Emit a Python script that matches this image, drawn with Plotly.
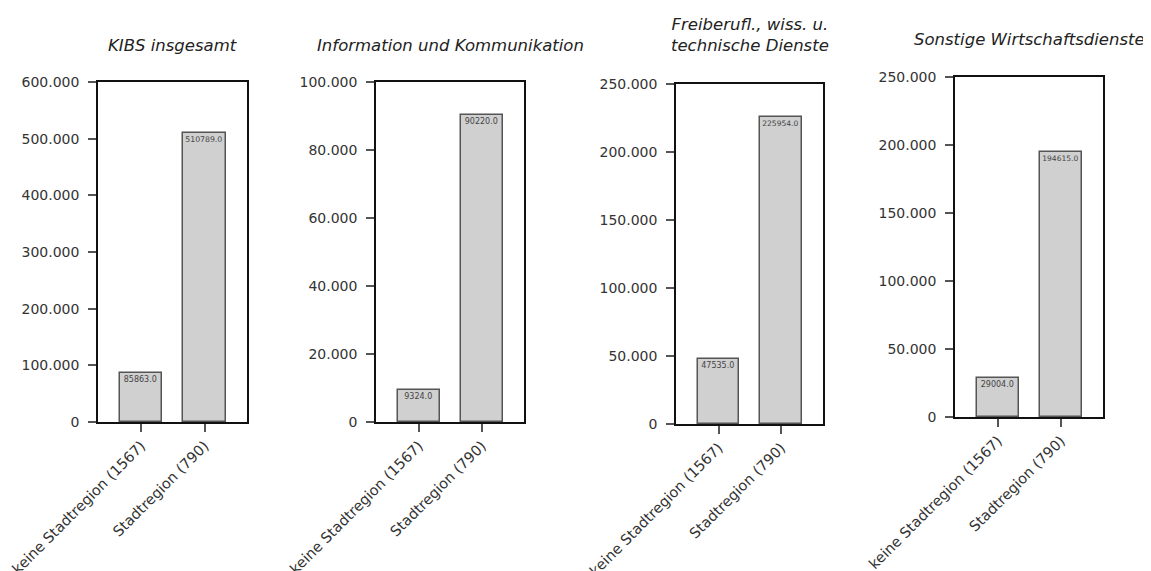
import plotly.graph_objects as go

W, H = 1151, 571
OFF = 8  # page body margin of the saved html

categories = ["keine Stadtregion (1567)", "Stadtregion (790)"]
titles = [
    "KIBS insgesamt",
    "Information und Kommunikation",
    "Freiberufl., wiss. u.<br>technische Dienste",
    "Sonstige Wirtschaftsdienste",
]
kibs_total = [85863, 510789]
info_komm = [9324, 90220]
freiberufl = [47535, 225954]
sonstige = [29004, 194615]
y_max = [600000, 100000, 250000, 250000]
y_dtick = [100000, 20000, 50000, 50000]

series = [kibs_total, info_komm, freiberufl, sonstige]

# plot boxes in screen pixels: left, right, top, bottom
boxes = [(98, 247, 82, 422), (376, 524, 82, 422), (676, 823, 84, 424), (955, 1103, 77, 417)]
title_y = [45, 45, 35, 39]

FONT = "DejaVu Sans"


def fx(px):
    return (px - OFF) / W


def fy(py):
    return 1 - (py - OFF) / H


fig = go.Figure()
for i, vals in enumerate(series):
    n = "" if i == 0 else str(i + 1)
    fig.add_trace(go.Bar(
        x=categories, y=vals,
        text=[f"{v:.1f}" for v in vals],
        textposition="inside", insidetextanchor="end", textangle=0,
        textfont=dict(size=8, color="#444", family=FONT),
        marker=dict(color="#d0d0d0", line=dict(color="#555", width=1.5)),
        width=0.667,
        xaxis="x" + n, yaxis="y" + n, showlegend=False,
    ))
    l, r, t, b = boxes[i]
    fig.layout["xaxis" + n] = dict(
        domain=[fx(l), fx(r)], anchor="y" + n, range=[-0.68, 1.67],
        automargin=False,
        showline=True, linecolor="#111", linewidth=1.5, mirror=True,
        ticks="outside", ticklen=8, tickcolor="#555", tickwidth=1.5,
        tickangle=-45, tickfont=dict(family=FONT, size=14.5, color="#333"),
        showgrid=False, zeroline=False,
    )
    fig.layout["yaxis" + n] = dict(
        domain=[fy(b), fy(t)], anchor="x" + n, range=[0, y_max[i]],
        automargin=False,
        dtick=y_dtick[i], tickformat=",d",
        showline=True, linecolor="#111", linewidth=1.5, mirror=True,
        ticks="outside", ticklen=8, tickcolor="#555", tickwidth=1.5,
        ticklabelstandoff=6,
        tickfont=dict(family=FONT, size=14, color="#333"),
        showgrid=False, zeroline=False,
    )
    fig.add_annotation(
        text="<i>" + titles[i] + "</i>", xref="paper", yref="paper",
        x=fx((l + r) / 2), y=fy(title_y[i]), showarrow=False,
        xanchor="center", yanchor="middle",
        font=dict(family=FONT, size=16.5, color="#222"),
    )

fig.update_layout(
    width=W, height=H, margin=dict(l=0, r=0, t=0, b=0, autoexpand=False),
    paper_bgcolor="white", plot_bgcolor="white",
    separators=",.", bargap=0,
)

fig.write_html("out.html")
